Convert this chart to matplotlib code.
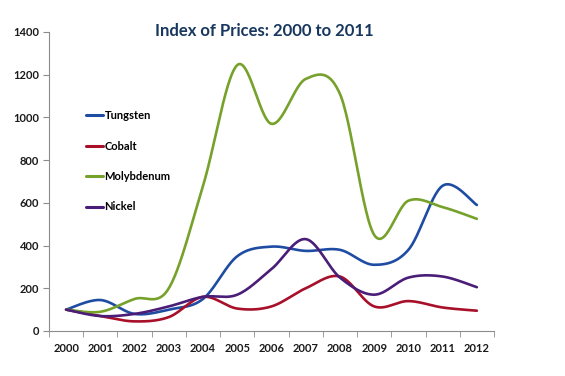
import numpy as np
import matplotlib.pyplot as plt

# === Data (index, 2000 = 100) ===
years = ["2000", "2001", "2002", "2003", "2004", "2005", "2006",
         "2007", "2008", "2009", "2010", "2011", "2012"]
tungsten = [100, 145, 80, 100, 150, 350, 395, 375, 380, 310, 380, 680, 590]
cobalt = [100, 70, 45, 65, 160, 105, 115, 200, 255, 115, 140, 110, 95]
molybdenum = [100, 90, 150, 200, 680, 1245, 970, 1180, 1110, 450, 610, 580, 525]
nickel = [100, 70, 80, 115, 160, 170, 290, 430, 250, 170, 250, 255, 205]

series = [
    ("Tungsten", tungsten, "#1F4CA3"),
    ("Cobalt", cobalt, "#A8102A"),
    ("Molybdenum", molybdenum, "#76A12B"),
    ("Nickel", nickel, "#4A1E78"),
]


def smooth(x, y, n=30):
    # Excel-style smoothed line: cubic Bezier through each point
    x = np.asarray(x, float)
    y = np.asarray(y, float)
    px, py = [], []
    t = np.linspace(0, 1, n)
    for i in range(len(x) - 1):
        i0 = max(i - 1, 0)
        i3 = min(i + 2, len(x) - 1)
        c1x = x[i] + (x[i + 1] - x[i0]) / 6
        c1y = y[i] + (y[i + 1] - y[i0]) / 6
        c2x = x[i + 1] - (x[i3] - x[i]) / 6
        c2y = y[i + 1] - (y[i3] - y[i]) / 6
        bx = ((1 - t) ** 3 * x[i] + 3 * (1 - t) ** 2 * t * c1x
              + 3 * (1 - t) * t ** 2 * c2x + t ** 3 * x[i + 1])
        by = ((1 - t) ** 3 * y[i] + 3 * (1 - t) ** 2 * t * c1y
              + 3 * (1 - t) * t ** 2 * c2y + t ** 3 * y[i + 1])
        px.extend(bx)
        py.extend(by)
    return px, py


plt.rcParams["font.family"] = ["Lato", "DejaVu Sans"]

fig = plt.figure(figsize=(5.65, 3.76), dpi=100)
ax = fig.add_axes([0.0867, 0.1197, 0.7876, 0.7953])

xs = np.arange(len(years))
for name, vals, color in series:
    sx, sy = smooth(xs, vals)
    ax.plot(sx, sy, color=color, lw=1.9, label=name, solid_capstyle="round")

ax.set_xlim(-0.5, len(years) - 0.5)
ax.set_ylim(0, 1400)
ax.set_yticks(range(0, 1401, 200))
ax.set_xticks(xs)
ax.set_xticklabels(years)
ax.set_xticks(np.arange(-0.5, len(years), 1), minor=True)
ax.tick_params(axis="x", which="major", length=0, pad=9)
ax.tick_params(axis="x", which="minor", length=4, color="#8C8C8C")
ax.tick_params(axis="y", length=4, color="#8C8C8C", pad=3)
for lbl in ax.get_xticklabels() + ax.get_yticklabels():
    lbl.set_fontsize(8)
    lbl.set_fontweight("bold")
    lbl.set_color("#1A1A1A")

for side in ["top", "right"]:
    ax.spines[side].set_visible(False)
for side in ["left", "bottom"]:
    ax.spines[side].set_color("#8C8C8C")

fig.text(0.468, 0.905, "Index of Prices: 2000 to 2011", ha="center", va="baseline",
         fontsize=12, fontweight="bold", color="#17375E")

leg = ax.legend(loc="upper left", bbox_to_anchor=(0.06, 0.772), frameon=False,
                handlelength=1.6, handletextpad=0.1, labelspacing=1.75,
                prop={"size": 8, "weight": "bold"})
for line in leg.get_lines():
    line.set_linewidth(2.2)

plt.savefig("out.png", dpi=100)
